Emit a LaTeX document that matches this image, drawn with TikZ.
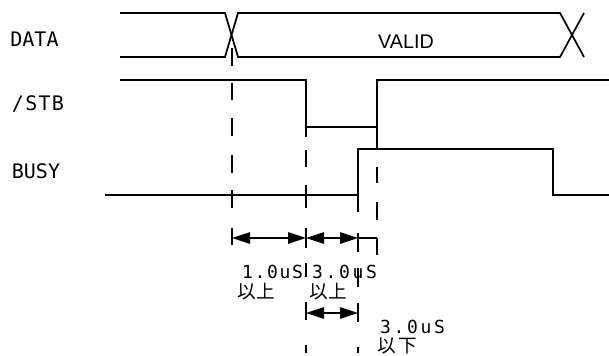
\documentclass[tikz,border=0pt]{standalone}
\usepackage{fontspec}
\setmainfont{DejaVu Sans}
\newfontfamily\monof{DejaVu Sans Mono}
\newfontfamily\validf{Liberation Sans}
\newfontfamily\jpf{Noto Sans CJK JP}
\usetikzlibrary{arrows.meta}
\begin{document}
\begin{tikzpicture}[x=0.75pt,y=-0.75pt,
  sig/.style={line width=1.3pt},
  dsh/.style={line width=1.2pt},
  dim/.style={line width=1.3pt,{Triangle[length=13.5pt,width=8.5pt]}-{Triangle[length=13.5pt,width=8.5pt]}},
  lab/.style={inner sep=0pt,font=\monof\fontsize{15}{15}\selectfont},
  tim/.style={inner sep=0pt,font=\monof\fontsize{13.5}{13.5}\selectfont},
  jp/.style={inner sep=0pt,font=\jpf\fontsize{14}{14}\selectfont}]
\fill[white] (0,0) rectangle (609,356);
\useasboundingbox (0,0) rectangle (609,356);
% labels
\node[lab] (ldata) at (34.5,39) {\makebox[33.75pt]{D\hfill A\hfill T\hfill A}};
\node[lab] (lstb) at (38,104) {\makebox[39pt]{/\hfill S\hfill T\hfill B}};
\node[lab] (lbusy) at (36,171) {\makebox[36pt]{B\hfill U\hfill S\hfill Y}};
\node[inner sep=0pt,font=\validf\fontsize{14.8}{14.8}\selectfont] (valid) at (406,42) {VALID};
% DATA
\draw[sig] (120,13) -- (225,13) -- (238,57) -- (560,57) -- (584,13);
\draw[sig] (120,57) -- (225,57) -- (238,13) -- (560,13) -- (584,57);
% /STB
\draw[sig] (120,80) -- (306,80) -- (306,127) -- (377,127) -- (377,80) -- (609,80);
% BUSY
\draw[sig] (105,195) -- (358,195) -- (358,149) -- (553,149) -- (553,195) -- (609,195);
% dashed guides
\foreach \a/\b in {48/66,83/100,118/136,155/173,190/208,228/245}
  \draw[dsh] (232,\a) -- (232,\b);
\foreach \a/\b in {127/137,150/167,185/208,228/248,263/277,302/320,345/353}
  \draw[dsh] (306,\a) -- (306,\b);
\foreach \a/\b in {195/212,233/252,268/287,303/322,347/353}
  \draw[dsh] (358,\a) -- (358,\b);
\foreach \a/\b in {127/148,167/183,202/220,238/255}
  \draw[dsh] (377,\a) -- (377,\b);
% dimension arrows
\coordinate (a1) at (232,238);
\coordinate (a2) at (306,238);
\coordinate (a3) at (358,238);
\coordinate (a4) at (377,238);
\coordinate (b1) at (306,313);
\coordinate (b2) at (358,313);
\draw[dim] (a1) -- (a2);
\draw[dim] (a2) -- (a3);
\draw[sig] (a3) -- (a4);
\draw[dim] (b1) -- (b2);
% texts
\node[tim] (t1) at (272.5,272) {\makebox[45.75pt]{1\hfill.\hfill0\hfill u\hfill S}};
\node[tim] (t2) at (344.5,272) {\makebox[48.75pt]{3\hfill.\hfill0\hfill u\hfill S}};
\node[jp] (j1) at (256.5,292) {\makebox[28pt]{以\hfill 上}};
\node[jp] (j2) at (328.5,292) {\makebox[28pt]{以\hfill 上}};
\node[tim] (t3) at (412.5,327) {\makebox[48.75pt]{3\hfill.\hfill0\hfill u\hfill S}};
\node[jp] (j3) at (397.5,346) {\makebox[30pt]{以\hfill 下}};
\end{tikzpicture}
\end{document}
